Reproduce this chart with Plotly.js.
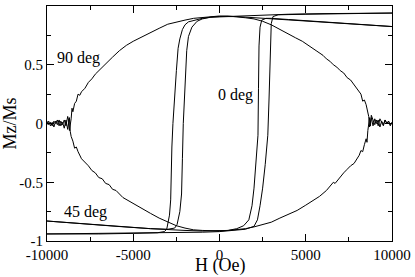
<!DOCTYPE html>
<html><head><meta charset="utf-8">
<script src="https://cdn.plot.ly/plotly-3.0.1.min.js"></script>
<style>html,body{margin:0;padding:0;background:#fff}#c{width:415px;height:277px}</style>
</head><body><div id="c"></div>
<script>
// 90 deg (hard axis) curve: upper branch (H decreasing), lower branch (H increasing)
const h90Down = [10000,9900,9800,9700,9600,9500,9400,9300,9200,9100,9000,8900,8800,8700,8650,8600,8500,8400,8300,8200,8000,7800,7600,7400,7200,7000,6800,6600,6400,6200,6000,5600,5200,4800,4400,4000,3500,3000,2500,2000,1500,1000,500,0,-500,-1000,-1500,-2000,-2500,-3000,-3500,-4000,-4500,-5000,-5400,-5800,-6200,-6600,-6800,-7000,-7200,-7400,-7600,-7800,-8000,-8100,-8200,-8300,-8400,-8500,-8550,-8600,-8700,-8750,-8800,-8900,-9000,-9100,-9200,-9300,-9400,-9500,-9600,-9700,-9800,-9900,-10000];
const m90Down = [0.01,-0.02,0.02,0.00,0.03,-0.01,0.02,-0.03,0.03,0.00,0.04,-0.02,0.05,-0.03,0.06,0.10,0.16,0.20,0.19,0.25,0.29,0.33,0.37,0.39,0.43,0.45,0.48,0.50,0.53,0.55,0.58,0.62,0.66,0.70,0.73,0.76,0.80,0.84,0.87,0.89,0.90,0.91,0.915,0.915,0.91,0.905,0.895,0.88,0.865,0.845,0.81,0.775,0.735,0.70,0.665,0.62,0.565,0.505,0.48,0.445,0.42,0.38,0.35,0.30,0.27,0.24,0.25,0.19,0.17,0.10,0.13,0.04,-0.06,0.03,0.06,-0.02,0.03,-0.01,0.02,-0.02,0.03,0.00,0.02,-0.02,0.01,-0.01,0.02];
const h90Up = [-10000,-9900,-9800,-9700,-9600,-9500,-9400,-9300,-9200,-9100,-9000,-8900,-8800,-8700,-8650,-8600,-8500,-8400,-8300,-8200,-8000,-7800,-7600,-7400,-7200,-7000,-6800,-6600,-6400,-6200,-6000,-5600,-5200,-4800,-4400,-4000,-3500,-3000,-2500,-2000,-1500,-1000,-500,0,500,1000,1500,2000,2500,3000,3500,4000,4500,5000,5400,5800,6200,6500,6600,6700,7000,7200,7400,7600,7800,8000,8100,8200,8300,8400,8500,8550,8600,8700,8750,8800,8900,9000,9100,9200,9300,9400,9500,9600,9700,9800,9900,10000];
const m90Up = [-0.01,0.02,-0.02,0.01,-0.03,0.02,-0.01,0.03,-0.02,0.01,-0.04,0.03,-0.05,0.05,-0.07,-0.11,-0.15,-0.21,-0.20,-0.24,-0.30,-0.33,-0.36,-0.40,-0.42,-0.46,-0.47,-0.51,-0.52,-0.56,-0.57,-0.63,-0.665,-0.70,-0.735,-0.765,-0.805,-0.84,-0.87,-0.89,-0.905,-0.91,-0.915,-0.915,-0.91,-0.905,-0.895,-0.88,-0.86,-0.84,-0.805,-0.775,-0.74,-0.695,-0.66,-0.62,-0.57,-0.52,-0.50,-0.51,-0.45,-0.42,-0.39,-0.36,-0.34,-0.29,-0.27,-0.23,-0.24,-0.18,-0.13,-0.16,-0.06,0.05,-0.02,0.07,0.02,-0.01,0.03,-0.02,0.04,0.01,-0.02,0.03,0.00,0.02,-0.01,0.01];

// 0 deg loop
const h0Down = [10000,8000,6000,4000,3000,2000,1000,0,-500,-1000,-1500,-1800,-2000,-2150,-2300,-2400,-2500,-2600,-2700,-2760,-2800,-2830,-2900,-2990,-3060,-3200,-3600,-5000,-7000,-10000];
const m0Down = [0.94,0.94,0.935,0.93,0.925,0.92,0.915,0.91,0.905,0.895,0.88,0.865,0.84,0.80,0.72,0.64,0.45,0.25,0.0,-0.2,-0.45,-0.65,-0.78,-0.86,-0.90,-0.92,-0.93,-0.935,-0.94,-0.94];
const h0Up = [-10000,-6000,-3000,-1000,0,1000,1500,2000,2200,2350,2500,2650,2800,2870,2920,2950,3000,3100,3400,5000,7000,10000];
const m0Up = [-0.94,-0.935,-0.93,-0.925,-0.92,-0.91,-0.90,-0.875,-0.82,-0.70,-0.55,-0.35,-0.1,0.2,0.5,0.7,0.85,0.91,0.925,0.93,0.935,0.94];

// 45 deg loop
const h45Down = [10000,8000,6000,5000,4000,3000,2000,1000,0,-500,-1000,-1300,-1600,-1800,-1900,-2000,-2100,-2150,-2200,-2300,-2460,-2600,-3000,-4000,-6000,-8000,-10000];
const m45Down = [0.825,0.845,0.865,0.875,0.885,0.895,0.905,0.91,0.91,0.905,0.89,0.87,0.82,0.74,0.62,0.35,0.0,-0.3,-0.6,-0.75,-0.86,-0.89,-0.90,-0.895,-0.875,-0.855,-0.83];
const h45Up = [-10000,-8000,-6000,-4000,-3000,-2000,-1000,0,500,1000,1400,1700,1884,2000,2150,2230,2260,2290,2350,2450,2700,3000,4000,5000,6000,8000,10000];
const m45Up = [-0.83,-0.855,-0.875,-0.895,-0.905,-0.91,-0.915,-0.915,-0.91,-0.895,-0.87,-0.82,-0.70,-0.55,-0.3,-0.1,0.3,0.66,0.82,0.88,0.895,0.895,0.885,0.875,0.865,0.845,0.825];

const xTicks = [-10000,-5000,0,5000,10000];
const xTickText = ['-10000','-5000','0','5000','10000'];
const yTicks = [-1,-0.5,0,0.5,1];
const yTickText = ['-1','-0.5','0','0.5','1'];

const labels = [
  {text:'90 deg', x:-8150, y:0.56},
  {text:'0 deg', x:900, y:0.24},
  {text:'45 deg', x:-7740, y:-0.755}
];

const FONT = 'Liberation Serif';
const line = {color:'#000', width:1};
const tr = (x,y)=>({x:x, y:y, type:'scatter', mode:'lines', line:line, hoverinfo:'skip', showlegend:false});
const data = [
  tr(h90Down,m90Down), tr(h90Up,m90Up),
  tr(h0Down,m0Down), tr(h0Up,m0Up),
  tr(h45Down,m45Down), tr(h45Up,m45Up)
];

const axisCommon = {
  showline:true, linecolor:'#000', linewidth:1, mirror:'allticks',
  ticks:'inside', ticklen:7, tickwidth:1, tickcolor:'#000',
  showgrid:false, zeroline:false,
  tickfont:{family:FONT, size:15, color:'#000'}
};

const layout = {
  width:415, height:277,
  margin:{l:47, r:23, t:6, b:36},
  paper_bgcolor:'#fff', plot_bgcolor:'#fff',
  showlegend:false,
  font:{family:FONT, color:'#000'},
  xaxis: Object.assign({}, axisCommon, {
    range:[-10000,10000], tickmode:'array', tickvals:xTicks, ticktext:xTickText,
    minor:{dtick:2500, ticks:'inside', ticklen:4, tickcolor:'#000', showgrid:false}
  }),
  yaxis: Object.assign({}, axisCommon, {
    range:[-1,1], tickmode:'array', tickvals:yTicks, ticktext:yTickText,
    minor:{dtick:0.25, ticks:'inside', ticklen:4, tickcolor:'#000', showgrid:false}
  }),
  annotations: labels.map(l=>({text:l.text, x:l.x, y:l.y, xref:'x', yref:'y', showarrow:false,
    font:{family:FONT, size:16, color:'#000'}})).concat([
    {text:'H (Oe)', xref:'paper', yref:'paper', x:0.5, y:-0.103, xanchor:'center', yanchor:'middle',
     showarrow:false, font:{family:FONT, size:18, color:'#000'}},
    {text:'Mz/Ms', xref:'paper', yref:'paper', x:-0.11, y:0.5, xanchor:'center', yanchor:'middle',
     textangle:-90, showarrow:false, font:{family:FONT, size:18, color:'#000'}}
  ])
};

Plotly.newPlot('c', data, layout, {staticPlot:true, displayModeBar:false});
</script></body></html>
